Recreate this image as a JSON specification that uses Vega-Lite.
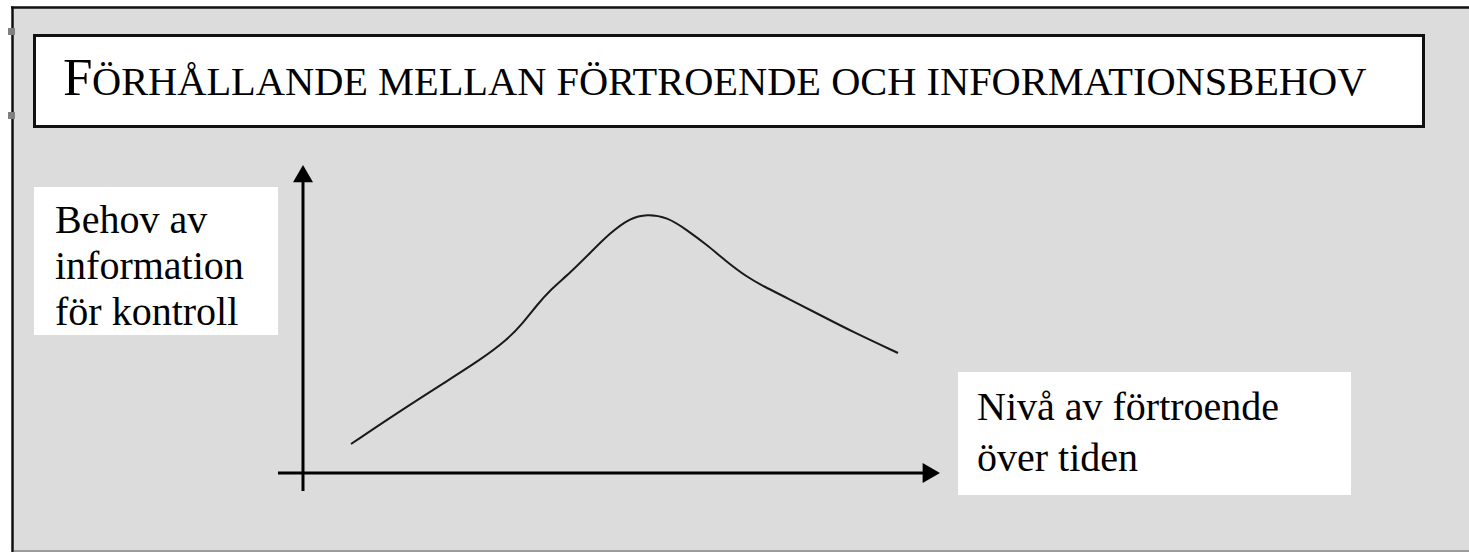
{
  "$schema": "https://vega.github.io/schema/vega-lite/v6.json",
  "width": 1469,
  "height": 552,
  "autosize": {"type": "fit", "contains": "padding"},
  "padding": 0,
  "background": "white",
  "config": {"view": {"stroke": null}},
  "encoding": {
    "x": {"field": "x", "type": "quantitative", "axis": null, "scale": {"domain": [0, 1469], "nice": false, "zero": false}},
    "y": {"field": "y", "type": "quantitative", "axis": null, "scale": {"domain": [0, 552], "nice": false, "zero": false, "reverse": true}}
  },
  "layer": [
    {
      "data": {"values": [{"x": 12, "x2": 1469, "y": 7, "y2": 551}]},
      "mark": {"type": "rect", "fill": "#dcdcdc", "clip": true},
      "encoding": {"x2": {"field": "x2"}, "y2": {"field": "y2"}}
    },
    {
      "data": {"values": [{"x": 11, "x2": 1469, "y": 7.5, "y2": 7.5}, {"x": 12.5, "x2": 12.5, "y": 6.5, "y2": 552}]},
      "mark": {"type": "rule", "color": "#111111", "strokeWidth": 2.5, "clip": true},
      "encoding": {"x2": {"field": "x2"}, "y2": {"field": "y2"}}
    },
    {
      "data": {"values": [{"x": 14, "x2": 1469, "y": 551, "y2": 551}]},
      "mark": {"type": "rule", "color": "#9a9a9a", "strokeWidth": 2, "clip": true},
      "encoding": {"x2": {"field": "x2"}, "y2": {"field": "y2"}}
    },
    {
      "data": {"values": [{"x": 8, "x2": 15, "y": 28, "y2": 35}, {"x": 8, "x2": 15, "y": 112, "y2": 119}]},
      "mark": {"type": "rect", "fill": "#808080"},
      "encoding": {"x2": {"field": "x2"}, "y2": {"field": "y2"}}
    },
    {
      "data": {"values": [{"x": 34.5, "x2": 1423.5, "y": 35.5, "y2": 126.5}]},
      "mark": {"type": "rect", "fill": "white", "stroke": "#111111", "strokeWidth": 3},
      "encoding": {"x2": {"field": "x2"}, "y2": {"field": "y2"}}
    },
    {
      "data": {"values": [{"x": 63, "y": 95, "t": "F"}]},
      "mark": {"type": "text", "font": "Liberation Serif", "fontSize": 53, "align": "left", "baseline": "alphabetic", "color": "black"},
      "encoding": {"text": {"field": "t"}}
    },
    {
      "data": {"values": [{"x": 92, "y": 95, "t": "ÖRHÅLLANDE MELLAN FÖRTROENDE OCH INFORMATIONSBEHOV"}]},
      "mark": {"type": "text", "font": "Liberation Serif", "fontSize": 40.4, "align": "left", "baseline": "alphabetic", "color": "black"},
      "encoding": {"text": {"field": "t"}}
    },
    {
      "data": {"values": [{"x": 34, "x2": 278, "y": 187, "y2": 335}, {"x": 958, "x2": 1351, "y": 372, "y2": 495}]},
      "mark": {"type": "rect", "fill": "white"},
      "encoding": {"x2": {"field": "x2"}, "y2": {"field": "y2"}}
    },
    {
      "data": {"values": [{"x": 55, "y": 233, "t": "Behov av\ninformation\nför kontroll"}]},
      "mark": {"type": "text", "font": "Liberation Serif", "fontSize": 40, "align": "left", "baseline": "alphabetic", "lineBreak": "\n", "lineHeight": 46, "color": "black"},
      "encoding": {"text": {"field": "t"}}
    },
    {
      "data": {"values": [{"x": 50, "x2": 278, "y": 326, "y2": 335}]},
      "mark": {"type": "rect", "fill": "white"},
      "encoding": {"x2": {"field": "x2"}, "y2": {"field": "y2"}}
    },
    {
      "data": {"values": [{"x": 977, "y": 419.5, "t": "Nivå av förtroende\növer tiden"}]},
      "mark": {"type": "text", "font": "Liberation Serif", "fontSize": 40, "align": "left", "baseline": "alphabetic", "lineBreak": "\n", "lineHeight": 51, "color": "black"},
      "encoding": {"text": {"field": "t"}}
    },
    {
      "data": {"values": [{"x": 303, "x2": 303, "y": 176, "y2": 491}, {"x": 278, "x2": 926, "y": 473, "y2": 473}]},
      "mark": {"type": "rule", "color": "black", "strokeWidth": 3},
      "encoding": {"x2": {"field": "x2"}, "y2": {"field": "y2"}}
    },
    {
      "data": {"values": [{"x": 303, "y": 173.7}]},
      "mark": {"type": "point", "shape": "triangle-up", "size": 400, "filled": true, "color": "black", "opacity": 1}
    },
    {
      "data": {"values": [{"x": 931.3, "y": 473}]},
      "mark": {"type": "point", "shape": "triangle-right", "size": 400, "filled": true, "color": "black", "opacity": 1}
    },
    {
      "data": {"values": [
        {"x": 351, "y": 444}, {"x": 397, "y": 413}, {"x": 447, "y": 381}, {"x": 480, "y": 360},
        {"x": 507, "y": 340}, {"x": 523, "y": 323}, {"x": 537, "y": 305}, {"x": 550, "y": 290},
        {"x": 570, "y": 273}, {"x": 590, "y": 253}, {"x": 610, "y": 233}, {"x": 630, "y": 218},
        {"x": 647, "y": 214}, {"x": 667, "y": 217}, {"x": 687, "y": 230}, {"x": 707, "y": 245},
        {"x": 727, "y": 262}, {"x": 747, "y": 277}, {"x": 763, "y": 286}, {"x": 787, "y": 298},
        {"x": 820, "y": 315}, {"x": 853, "y": 332}, {"x": 898, "y": 353}
      ]},
      "mark": {"type": "line", "color": "#1a1a1a", "strokeWidth": 2, "interpolate": "basis"}
    }
  ]
}
